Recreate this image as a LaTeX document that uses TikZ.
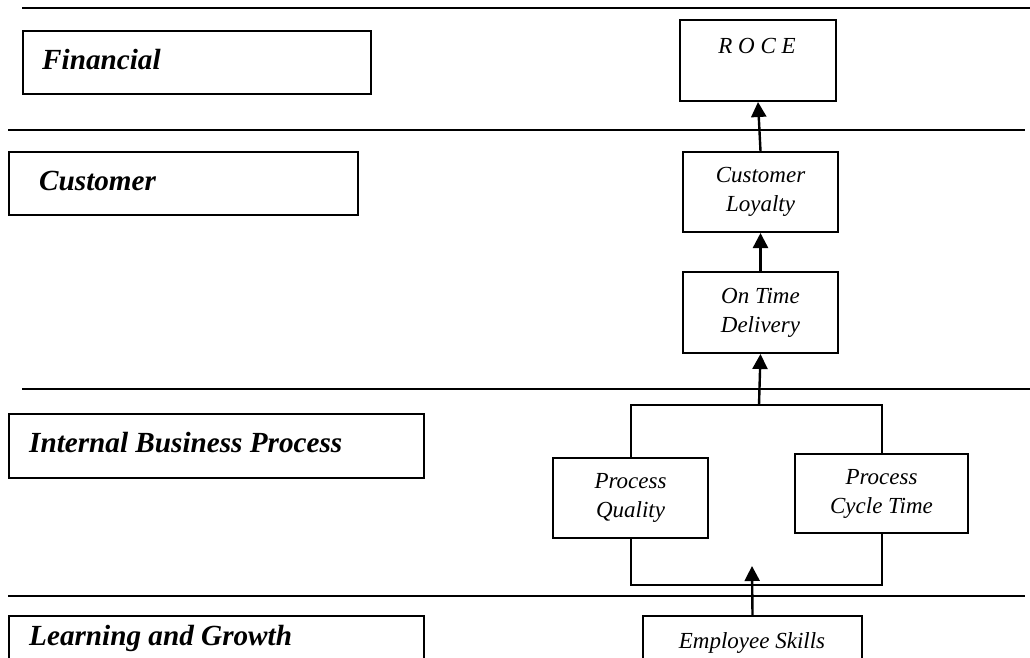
\documentclass[tikz,border=0pt]{standalone}
\usepackage{fontspec}
\setmainfont{Liberation Serif}
\usetikzlibrary{arrows.meta}
\begin{document}
\begin{tikzpicture}[x=1pt,y=-1pt,
  box/.style={draw, line width=2pt, inner sep=0pt, anchor=north west},
  lbl/.style={font=\fontsize{29.2}{32}\selectfont\bfseries\itshape, anchor=base west, inner sep=0pt},
  rtx/.style={font=\fontsize{23}{29}\selectfont\itshape, align=center, inner sep=0pt},
  rbox/.style={box, rtx},
  hline/.style={line width=2pt},
  link/.style={line width=2pt},
  arr/.style={line width=2.4pt, -{Triangle[length=15pt,width=15pt]}}]
\useasboundingbox (0,0) rectangle (1030,657);
\clip (0,0) rectangle (1030,657);
% separator lines
\draw[hline] (22,8) -- (1030,8);
\draw[hline] (8,130) -- (1025,130);
\draw[hline] (22,389) -- (1030,389);
\draw[hline] (8,596) -- (1025,596);
% left perspective boxes
\node[box, minimum width=348pt, minimum height=63pt] (fin) at (22,30) {};
\node[lbl] (fint) at (42,69) {Financial};
\node[box, minimum width=349pt, minimum height=63pt] (cus) at (8,151) {};
\node[lbl] (cust) at (39,190) {Customer};
\node[box, minimum width=415pt, minimum height=64pt] (ibp) at (8,413) {};
\node[lbl] (ibpt) at (29,452) {Internal Business Process};
\node[box, minimum width=415pt, minimum height=80pt] (lg) at (8,615) {};
\node[lbl] (lgt) at (29,645) {Learning and Growth};
% right measure boxes
\node[box, minimum width=156pt, minimum height=81pt] (roce) at (679,19) {};
\node[rtx, anchor=base] (rocet) at (757,53) {R O C E};
\node[rbox, minimum width=155pt, minimum height=80pt] (cl) at (682,151) {Customer\\Loyalty};
\node[rbox, minimum width=155pt, minimum height=81pt] (otd) at (682,271) {On Time\\Delivery};
\node[rbox, minimum width=155pt, minimum height=80pt] (pq) at (552,457) {Process\\Quality};
\node[rbox, minimum width=173pt, minimum height=79pt] (pct) at (794,453) {Process\\Cycle Time};
\node[box, minimum width=219pt, minimum height=80pt] (es) at (642,615) {};
\node[rtx, anchor=base] (est) at (752,648) {Employee Skills};
% connectors
\coordinate (top) at (759,405);
\coordinate (bot) at (752,585);
\coordinate (estip) at (752,566);
\draw[arr] (cl.north) -- (roce.south);
\draw[arr] (otd.north) -- (cl.south);
\draw[link] (pq.north) |- (top) -| (pct.north);
\draw[arr] (top) -- (otd.south);
\draw[link] (pq.south) |- (bot) -| (pct.south);
\draw[arr] (es.north) -- (estip);
\end{tikzpicture}
\end{document}
